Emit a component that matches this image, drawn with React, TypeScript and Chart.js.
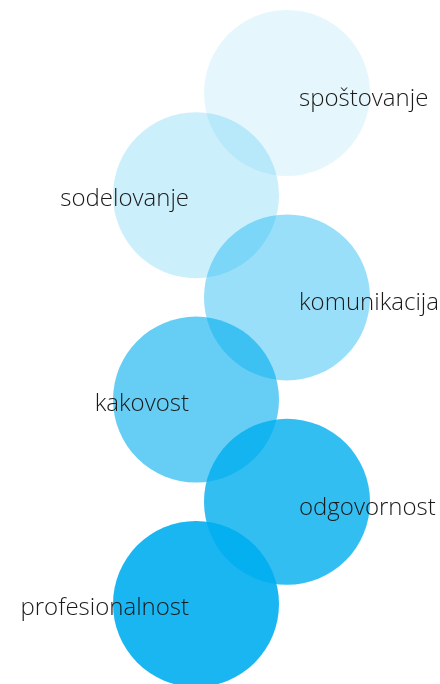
import React, { useEffect, useRef } from "react";
import { Chart, registerables } from "chart.js";

Chart.register(...registerables);

const categories = ["spoštovanje", "sodelovanje", "komunikacija", "kakovost", "odgovornost", "profesionalnost"];
const levels = [0, 1, 2, 3, 4, 5];
const sides = [1, 0, 1, 0, 1, 0];
const opacities = [0.1, 0.2, 0.4, 0.6, 0.8, 0.9];

const labelPlugin = {
  id: "bubbleLabels",
  afterDatasetsDraw(chart: any) {
    const ctx = chart.ctx;
    const meta = chart.getDatasetMeta(0);
    ctx.save();
    ctx.font = "300 24px 'Open Sans'";
    ctx.fillStyle = "#1a1a1a";
    ctx.textBaseline = "alphabetic";
    meta.data.forEach((el: any, i: number) => {
      const right = sides[i] === 1;
      ctx.textAlign = right ? "left" : "right";
      const x = right ? el.x + 12 : el.x - 7;
      ctx.fillText(categories[i], x, el.y + (right ? 13 : 11));
    });
    ctx.restore();
  },
};

export default function App() {
  const ref = useRef<HTMLCanvasElement>(null);
  useEffect(() => {
    const chart = new Chart(ref.current!, {
      type: "bubble",
      data: {
        labels: categories,
        datasets: [
          {
            data: levels.map((l, i) => ({ x: sides[i], y: l, r: 83 })),
            backgroundColor: opacities.map((o) => `rgba(0,174,239,${o})`),
            borderWidth: 0,
            hoverBorderWidth: 0,
            clip: false,
          },
        ],
      },
      options: {
        responsive: false,
        animation: false,
        layout: { padding: 0, autoPadding: false },
        plugins: { legend: { display: false }, tooltip: { enabled: false } },
        events: [],
        scales: {
          x: { type: "linear", display: false, min: -196 / 91, max: (440 - 196) / 91 },
          y: { type: "linear", display: false, reverse: true, min: -93 / 102.2, max: (684 - 93) / 102.2 },
        },
      },
      plugins: [labelPlugin],
    });
    return () => chart.destroy();
  }, []);
  return (
    <div style={{ position: "absolute", left: 0, top: 0, width: 440, height: 684 }}>
      <canvas ref={ref} width={440} height={684} />
    </div>
  );
}
